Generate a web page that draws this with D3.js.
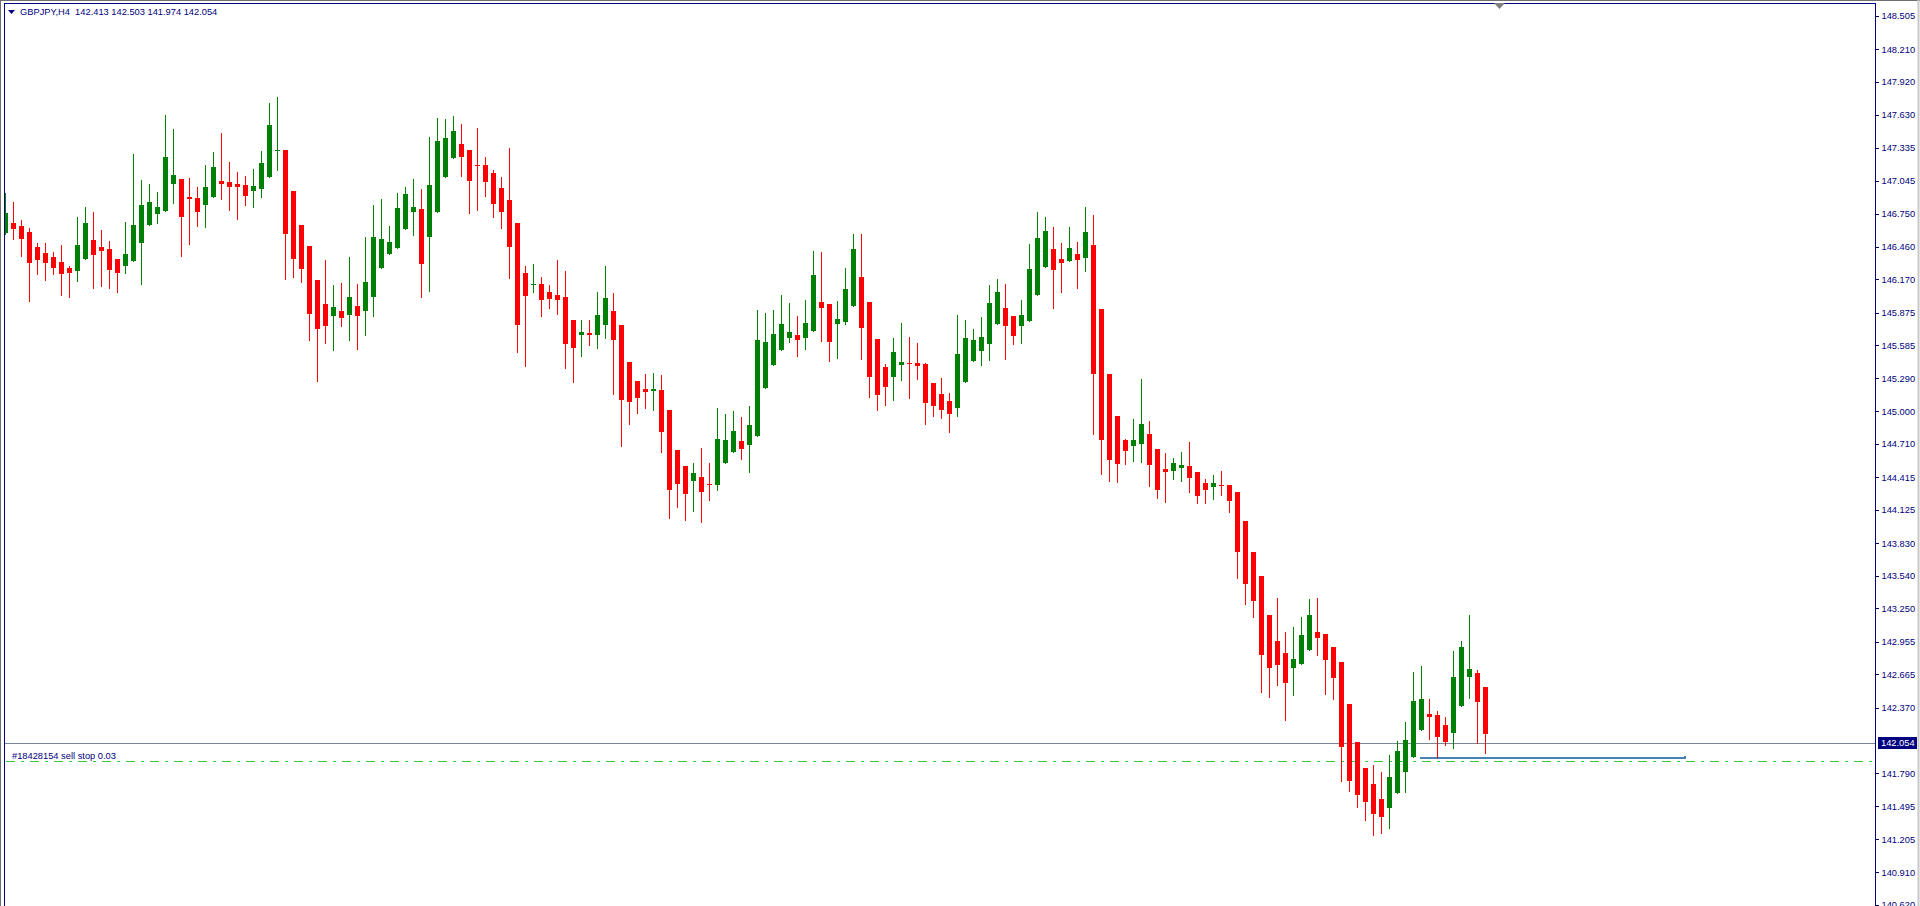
<!DOCTYPE html>
<html>
<head>
<meta charset="utf-8">
<script src="https://d3js.org/d3.v7.min.js"></script>
<style>
  html, body { margin: 0; padding: 0; background: #fff; }
  svg { display: block; }
  text { font-family: "Liberation Sans", Arial, sans-serif; }
</style>
</head>
<body>
<svg id="chart" width="1920" height="906"></svg>
<script>
// GBPJPY H4 candles, left to right (one per bar)
const opens = [
  146.575,146.669,146.643,146.590,146.457,146.403,146.368,146.323,146.270,146.247,
  146.353,146.519,146.457,146.439,146.350,146.291,146.335,146.495,146.655,146.752,
  146.779,147.018,147.060,146.900,146.891,146.832,146.903,147.042,147.033,147.015,
  147.006,146.956,146.974,147.080,147.311,147.317,146.953,146.652,146.465,146.164,
  145.951,145.847,145.889,145.856,145.933,145.892,146.016,146.273,146.397,146.451,
  146.619,146.770,146.794,146.548,146.770,147.080,147.249,147.370,147.317,147.184,
  147.184,147.113,146.980,146.873,146.669,146.226,146.122,146.128,146.057,146.031,
  146.013,145.809,145.679,145.694,145.679,145.768,145.889,145.765,145.437,145.268,
  145.197,145.179,145.188,145.011,144.656,144.514,144.384,144.417,144.354,144.349,
  144.544,144.641,144.736,144.703,144.783,145.209,145.413,145.546,145.652,145.676,
  145.652,145.714,145.968,145.951,145.776,145.794,145.936,146.190,145.968,145.640,
  145.392,145.306,145.413,145.427,145.427,145.418,145.250,145.152,145.090,145.031,
  145.262,145.448,145.537,145.599,145.776,145.915,145.844,145.758,145.803,146.033,
  146.282,146.438,146.350,146.335,146.394,146.362,146.474,145.906,145.330,144.957,
  144.744,144.694,144.712,144.798,144.665,144.487,144.472,144.499,144.514,144.461,
  144.363,144.330,144.345,144.345,144.283,144.026,143.751,143.538,143.192,142.962,
  142.855,142.725,142.760,142.885,143.041,143.024,142.908,142.775,142.403,142.066,
  141.835,141.693,141.560,141.481,141.617,141.802,141.935,142.175,142.314,142.305,
  142.216,142.148,142.388,142.645,142.678,142.556
];
const highs = [
  146.932,146.856,146.696,146.622,146.492,146.492,146.412,146.474,146.288,146.726,
  146.811,146.767,146.607,146.510,146.350,146.678,147.281,147.051,147.015,146.944,
  147.627,147.503,147.060,147.069,146.986,147.184,147.299,147.468,147.210,147.122,
  147.086,147.148,147.308,147.734,147.787,147.317,146.953,146.652,146.465,146.164,
  146.341,146.119,146.137,146.368,146.128,146.545,146.829,146.882,146.643,146.935,
  146.989,147.060,146.971,147.432,147.601,147.592,147.618,147.547,147.317,147.512,
  147.255,147.139,147.077,147.335,146.669,146.288,146.306,146.190,146.119,146.341,
  146.244,145.809,145.809,145.809,146.057,146.288,146.049,145.765,145.437,145.268,
  145.330,145.339,145.321,145.011,144.656,144.514,144.541,144.674,144.541,145.032,
  144.978,145.005,144.952,145.049,145.901,145.871,145.897,146.030,145.959,145.844,
  145.986,146.421,146.412,145.951,145.977,146.270,146.571,146.571,145.968,145.640,
  145.418,145.649,145.782,145.658,145.605,145.427,145.250,145.294,145.161,145.853,
  145.809,145.729,145.835,146.119,146.172,146.128,145.844,145.986,146.483,146.767,
  146.722,146.634,146.492,146.634,146.501,146.811,146.740,145.906,145.330,144.957,
  144.753,144.931,145.285,144.913,144.665,144.629,144.588,144.638,144.727,144.461,
  144.398,144.434,144.469,144.345,144.283,144.026,143.751,143.538,143.192,143.343,
  143.041,143.086,143.174,143.334,143.343,143.024,142.908,142.775,142.403,142.066,
  141.835,141.862,141.800,141.951,142.075,142.243,142.689,142.740,142.447,142.341,
  142.287,142.873,142.964,143.192,142.704,142.556
];
const lows = [
  146.575,146.530,146.380,145.981,146.220,146.167,146.220,146.034,146.016,146.158,
  146.353,146.096,146.114,146.096,146.060,146.229,146.335,146.131,146.655,146.672,
  146.779,146.850,146.380,146.486,146.646,146.637,146.903,146.885,146.788,146.708,
  146.832,146.814,146.903,147.080,147.142,146.176,146.193,146.149,145.635,145.271,
  145.608,145.546,145.753,145.635,145.555,145.679,145.847,146.273,146.397,146.451,
  146.619,146.566,146.016,146.069,146.770,147.080,147.249,147.089,146.761,146.788,
  146.912,146.726,146.628,146.185,145.528,145.404,146.060,145.847,145.918,145.865,
  145.386,145.262,145.493,145.590,145.564,145.652,145.156,144.694,144.890,144.987,
  145.032,145.014,144.641,144.056,144.153,144.038,144.118,144.020,144.216,144.304,
  144.544,144.641,144.579,144.464,144.783,145.209,145.413,145.546,145.617,145.492,
  145.554,145.714,145.625,145.448,145.475,145.776,145.936,145.466,145.129,145.013,
  145.058,145.102,145.279,145.120,145.288,144.889,144.960,144.942,144.818,144.960,
  145.262,145.448,145.413,145.457,145.776,145.466,145.599,145.608,145.803,146.033,
  146.282,145.918,146.060,146.335,146.095,146.246,144.801,144.446,144.384,144.375,
  144.534,144.561,144.552,144.339,144.233,144.197,144.401,144.384,144.286,144.189,
  144.189,144.224,144.260,144.109,143.523,143.293,143.177,142.512,142.468,142.574,
  142.264,142.486,142.760,142.885,142.840,142.494,142.450,141.723,141.634,141.492,
  141.374,141.241,141.259,141.303,141.617,141.625,141.935,142.175,142.095,141.935,
  142.042,142.015,142.388,142.459,142.060,141.971
];
const closes = [
  146.755,146.619,146.525,146.318,146.344,146.312,146.273,146.220,146.229,146.474,
  146.669,146.389,146.424,146.255,146.229,146.394,146.652,146.829,146.856,146.814,
  147.255,147.095,146.726,146.885,146.770,146.989,147.166,147.018,146.992,146.992,
  146.912,146.998,147.202,147.539,147.317,146.575,146.350,146.264,145.865,145.732,
  145.759,145.924,145.830,146.013,145.847,146.146,146.545,146.527,146.501,146.802,
  146.927,146.811,146.309,147.006,147.397,147.423,147.485,147.258,147.045,147.178,
  147.036,146.841,146.770,146.459,145.768,146.025,146.131,145.989,145.998,145.989,
  145.599,145.564,145.703,145.676,145.853,146.004,145.635,145.102,145.085,145.120,
  145.173,145.200,144.819,144.304,144.357,144.269,144.452,144.286,144.349,144.754,
  144.745,144.825,144.668,144.878,145.632,145.614,145.685,145.773,145.702,145.634,
  145.782,146.208,145.918,145.617,145.818,146.084,146.438,145.741,145.306,145.146,
  145.217,145.525,145.436,145.421,145.404,145.075,145.049,145.013,144.978,145.507,
  145.649,145.631,145.658,145.959,146.057,145.758,145.664,145.853,146.261,146.536,
  146.598,146.255,146.317,146.447,146.341,146.589,145.333,144.747,144.570,144.534,
  144.650,144.747,144.889,144.526,144.304,144.464,144.540,144.523,144.410,144.251,
  144.304,144.363,144.336,144.206,143.754,143.470,143.319,142.840,142.725,142.752,
  142.592,142.802,143.015,143.192,142.991,142.796,142.636,142.024,141.723,141.599,
  141.537,141.427,141.401,141.755,141.986,142.083,142.429,142.447,142.290,142.113,
  142.069,142.642,142.908,142.713,142.423,142.139
];

// price scale labels as MT4 prints them
const priceTicks = [
  148.505,148.210,147.920,147.630,147.335,147.045,146.750,146.460,146.170,145.875,
  145.585,145.290,145.000,144.710,144.415,144.125,143.830,143.540,143.250,142.955,
  142.665,142.370,141.790,141.495,141.205,140.910,140.620
];

const headerSymbol = 'GBPJPY,H4';
const headerOHLC = [142.413, 142.503, 141.974, 142.054];
const bidPrice = 142.054;
const sellStopPrice = 141.897;
const sellStopLabel = '#18428154 sell stop 0.03';
const trendPrice = 141.928;
const trendBars = [176.8, 210];

// --- LAYOUT ---
const W = 1920, H = 906;
const plotLeft = 4, plotTop = 3, axisX = 1875;
const barStep = 8, bodyW = 5;

const candles = opens.map((o, i) => ({
  i, o, h: highs[i], l: lows[i], c: closes[i]
}));

const x = d3.scaleLinear()
  .domain([0, 1])
  .range([5.5, 5.5 + barStep]);

const y = d3.scaleLinear()
  .domain([140.910, 148.505])
  .range([872.3, 16]);

const svg = d3.select('#chart');
const navy = '#000080';

// window frame
svg.append('rect').attr('x', 0).attr('y', 0).attr('width', W).attr('height', H).attr('fill', '#fff');
svg.append('line').attr('x1', 0).attr('x2', W).attr('y1', 0.5).attr('y2', 0.5)
  .attr('stroke', '#6f6f6f');
svg.append('line').attr('x1', 0.5).attr('x2', 0.5).attr('y1', 0).attr('y2', H)
  .attr('stroke', '#6f6f6f').attr('stroke-width', 1);
svg.append('line').attr('x1', W - 1.5).attr('x2', W - 1.5).attr('y1', 0).attr('y2', H)
  .attr('stroke', '#c8c8c8').attr('stroke-width', 2);

// plot frame
svg.append('path')
  .attr('d', `M${plotLeft + 0.5},${H}V${plotTop + 0.5}H${axisX + 0.5}V${H}`)
  .attr('fill', 'none').attr('stroke', navy).attr('stroke-width', 1)
  .attr('shape-rendering', 'crispEdges');

svg.append('clipPath').attr('id', 'plotClip')
  .append('rect')
  .attr('x', plotLeft + 1).attr('y', plotTop + 1)
  .attr('width', axisX - plotLeft - 1).attr('height', H - plotTop);

const plot = svg.append('g').attr('clip-path', 'url(#plotClip)')
  .attr('shape-rendering', 'crispEdges');

// --- LEVEL LINES ---
const yr = v => Math.round(y(v)) + 0.5;

plot.append('line')
  .attr('x1', plotLeft).attr('x2', axisX)
  .attr('y1', yr(bidPrice)).attr('y2', yr(bidPrice))
  .attr('stroke', '#778899').attr('stroke-width', 1);

plot.append('line')
  .attr('x1', plotLeft + 2).attr('x2', axisX)
  .attr('y1', yr(sellStopPrice)).attr('y2', yr(sellStopPrice))
  .attr('stroke', '#32cd32').attr('stroke-width', 1)
  .attr('stroke-dasharray', '9,6,3,6');

plot.append('line')
  .attr('x1', x(trendBars[0])).attr('x2', x(trendBars[1]))
  .attr('y1', Math.round(y(trendPrice))).attr('y2', Math.round(y(trendPrice)))
  .attr('stroke', '#4682b4').attr('stroke-width', 2);
plot.append('rect')
  .attr('x', x(trendBars[1]) - 2).attr('y', Math.round(y(trendPrice)) - 2)
  .attr('width', 2).attr('height', 3).attr('fill', '#4682b4');

// --- CANDLES ---
const up = d => d.c > d.o;
const colorOf = d => up(d) ? '#008000' : '#ff0000';

const g = plot.selectAll('g.candle')
  .data(candles)
  .enter().append('g')
  .attr('class', 'candle');

g.append('line')
  .attr('x1', d => x(d.i)).attr('x2', d => x(d.i))
  .attr('y1', d => Math.round(y(d.h))).attr('y2', d => Math.round(y(d.l)) + 1)
  .attr('stroke', colorOf).attr('stroke-width', 1);

g.append('rect')
  .attr('x', d => x(d.i) - bodyW / 2)
  .attr('y', d => Math.round(y(Math.max(d.o, d.c))))
  .attr('width', bodyW)
  .attr('height', d => Math.max(1, Math.round(Math.abs(y(d.o) - y(d.c)))))
  .attr('fill', colorOf);

// --- PRICE AXIS ---
const axis = d3.axisRight(y)
  .tickValues(priceTicks)
  .tickSize(3)
  .tickPadding(3)
  .tickFormat(d3.format('.3f'));

const ax = svg.append('g')
  .attr('transform', `translate(${axisX + 0.5},0)`)
  .call(axis);
ax.select('.domain').remove();
ax.selectAll('line').attr('stroke', navy).attr('shape-rendering', 'crispEdges');
ax.selectAll('text')
  .attr('fill', navy)
  .style('font-size', '9.3px')
  .style('font-family', '"Liberation Sans", Arial, sans-serif');

// current bid marker
const bidY = Math.round(y(bidPrice));
svg.append('rect')
  .attr('x', axisX + 3).attr('y', bidY - 6)
  .attr('width', 39).attr('height', 12)
  .attr('fill', navy);
svg.append('text')
  .attr('x', axisX + 6).attr('y', bidY)
  .attr('dy', '0.35em')
  .attr('fill', '#fff')
  .style('font-size', '9.3px')
  .text(d3.format('.3f')(bidPrice));

// --- LABELS ---
svg.append('path')
  .attr('d', 'M8,10H15L11.5,14Z')
  .attr('fill', navy);
svg.append('text')
  .attr('x', 20).attr('y', 15)
  .attr('fill', navy)
  .style('font-size', '9.3px')
  .text(headerSymbol + '  ' + headerOHLC.map(d3.format('.3f')).join(' '))
  .attr('xml:space', 'preserve')
  .style('white-space', 'pre');

svg.append('text')
  .attr('x', 12).attr('y', yr(sellStopPrice) - 3)
  .attr('fill', navy)
  .style('font-size', '9.3px')
  .text(sellStopLabel);

// chart shift marker
svg.append('path')
  .attr('d', 'M1494,3H1505L1499.5,9Z')
  .attr('fill', '#7f7f7f');
</script>
</body>
</html>
